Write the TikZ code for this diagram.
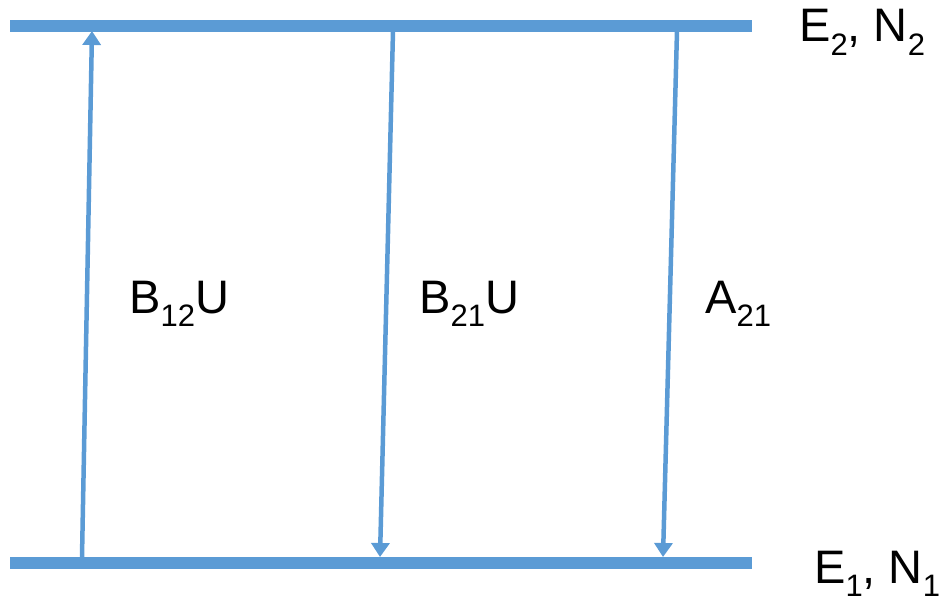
\documentclass[tikz,border=0pt]{standalone}
\usepackage{fontspec}
\setmainfont{Liberation Sans}
\usetikzlibrary{arrows.meta}
\definecolor{lvl}{RGB}{91,155,213}
\newcommand{\lsub}[1]{\raisebox{-0.28em}{\fontsize{31}{31}\selectfont #1}}
\begin{document}
\begin{tikzpicture}[x=1pt,y=-1pt,
  level/.style={draw=lvl,line width=12pt},
  trans/.style={draw=lvl,line width=4.5pt,-{Triangle[length=14pt,width=18pt]}},
  lab/.style={anchor=base west,inner sep=0pt,font=\fontsize{47}{47}\selectfont}]
\useasboundingbox (0,0) rectangle (941,596);
\coordinate (t1) at (10,26);
\coordinate (t2) at (752,26);
\coordinate (b1) at (10,563);
\coordinate (b2) at (752,563);
\draw[level] (t1) -- (t2);
\draw[level] (b1) -- (b2);
\coordinate (a1s) at (82,557);
\coordinate (a1e) at (92,31);
\coordinate (a2s) at (393,31);
\coordinate (a2e) at (380,557);
\coordinate (a3s) at (677,31);
\coordinate (a3e) at (663,557);
\draw[trans] (a1s) -- (a1e);
\draw[trans] (a2s) -- (a2e);
\draw[trans] (a3s) -- (a3e);
\node[lab] (l1) at (129,313) {B\lsub{12}U};
\node[lab] (l2) at (419,313) {B\lsub{21}U};
\node[lab] (l3) at (705,313) {A\lsub{21}};
\node[lab] (e2) at (799,42) {E\lsub{2}, N\lsub{2}};
\node[lab] (e1) at (814,583) {E\lsub{1}, N\lsub{1}};
\end{tikzpicture}
\end{document}
